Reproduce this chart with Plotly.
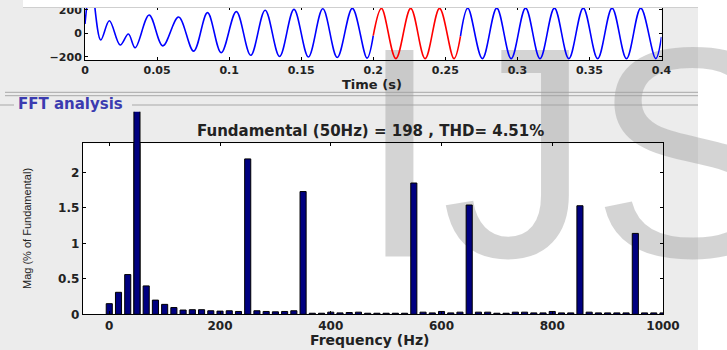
import plotly.graph_objects as go

W, H = 727, 350

# ---------------- data ----------------
# Time-domain signal (extrema), seconds / value
wave_t = [0.000, 0.0042, 0.0109, 0.0169, 0.0244, 0.0301, 0.0348, 0.0445, 0.0540, 0.0649,
          0.0754, 0.0850, 0.0945, 0.1050, 0.1150, 0.1250, 0.1350, 0.1450, 0.1550, 0.1650,
          0.1750, 0.1855, 0.1957, 0.2000, 0.2057, 0.2157, 0.2260, 0.2360, 0.2460, 0.2560,
          0.2605, 0.2656, 0.2757, 0.2857, 0.2957, 0.3057, 0.3157, 0.3257, 0.3357, 0.3457,
          0.3557, 0.3657, 0.3757, 0.3856, 0.3960, 0.4000]
wave_v = [80, 420, -57, 108, -100, -6, -123, 157, -107, 140,
          -152, 177, -166, 186, -188, 198, -198, 205, -202, 210,
          -206, 214, -212, -20, 214, -216, 214, -216, 214, -216,
          -25, 216, -216, 216, -216, 216, -216, 216, -216, 216,
          -216, 216, -216, 216, -216, -30]
fft_window = (0.2, 0.2605)   # highlighted 3-cycle window (s)

time_ticks = [0, 0.05, 0.1, 0.15, 0.2, 0.25, 0.3, 0.35, 0.4]
time_ticktext = ["0", "0.05", "0.1", "0.15", "0.2", "0.25", "0.3", "0.35", "0.4"]
wave_yticks = [-200, 0, 200]

# FFT spectrum (Hz / % of fundamental)
fft_freq = [0, 16.67, 33.33, 50, 66.67, 83.33, 100, 116.67, 133.33, 150,
            166.67, 183.33, 200, 216.67, 233.33, 250, 266.67, 283.33, 300, 316.67,
            333.33, 350, 366.67, 383.33, 400, 416.67, 433.33, 450, 466.67, 483.33,
            500, 516.67, 533.33, 550, 566.67, 583.33, 600, 616.67, 633.33, 650,
            666.67, 683.33, 700, 716.67, 733.33, 750, 766.67, 783.33, 800, 816.67,
            833.33, 850, 866.67, 883.33, 900, 916.67, 933.33, 950, 966.67, 983.33,
            1000]
fft_mag = [0.15, 0.31, 0.56, 100, 0.40, 0.20, 0.14, 0.095, 0.06, 0.065,
           0.065, 0.05, 0.045, 0.05, 0.04, 2.19, 0.05, 0.04, 0.035, 0.04,
           0.05, 1.73, 0.015, 0.015, 0.03, 0.02, 0.025, 0.03, 0.015, 0.015,
           0.015, 0.015, 0.015, 1.85, 0.03, 0.02, 0.04, 0.02, 0.03, 1.54,
           0.03, 0.03, 0.015, 0.015, 0.03, 0.03, 0.02, 0.02, 0.04, 0.02,
           0.02, 1.53, 0.03, 0.02, 0.02, 0.02, 0.02, 1.14, 0.02, 0.02,
           0.02]
fundamental_hz = 50
freq_ticks = [0, 200, 400, 600, 800, 1000]
mag_ticks = [0, 0.5, 1, 1.5, 2]
mag_ticktext = ["0", "0.5", "1", "1.5", "2"]

title_text = "Fundamental (50Hz) = 198 , THD= 4.51%"

# ---------------- helpers ----------------
def px(x):
    return x / W

def py(y):
    return 1 - y / H

TICKFONT_TOP = dict(family="DejaVu Sans", size=11, color="#222222", weight="bold")
TICKFONT = dict(family="DejaVu Sans", size=12, color="#222222", weight="bold")
BG = "#ececec"

fig = go.Figure()

# waveform: blue outside the window, red inside
w0, w1 = fft_window
seg_before = [(t, v) for t, v in zip(wave_t, wave_v) if t <= w0]
seg_win = [(t, v) for t, v in zip(wave_t, wave_v) if w0 <= t <= w1]
seg_after = [(t, v) for t, v in zip(wave_t, wave_v) if t >= w1]
for seg, col in [(seg_before, "#0000ff"), (seg_after, "#0000ff"), (seg_win, "#ff0000")]:
    fig.add_trace(go.Scatter(
        x=[p[0] for p in seg], y=[p[1] for p in seg], mode="lines",
        line=dict(color=col, width=1.6, shape="spline", smoothing=1.0),
        xaxis="x", yaxis="y", showlegend=False, hoverinfo="skip"))

# FFT bars (clipped in the framed axes)
bar_style = dict(color="#000080", line=dict(color="#000000", width=1))
fig.add_trace(go.Bar(x=fft_freq, y=fft_mag, width=11, marker=bar_style,
                     xaxis="x3", yaxis="y3", showlegend=False, hoverinfo="skip"))
# fundamental bar again in a taller invisible axis, so it pokes above the frame
fund = [(f, m) for f, m in zip(fft_freq, fft_mag) if f == fundamental_hz]
fig.add_trace(go.Bar(x=[p[0] for p in fund], y=[p[1] for p in fund], width=11,
                     marker=bar_style, xaxis="x4", yaxis="y4",
                     showlegend=False, hoverinfo="skip"))

# geometry (pixels)
top_l, top_r, top_t, top_b = 85, 661.5, 6.7, 60
fft_l, fft_r, fft_t, fft_b = 82.7, 663, 143.3, 314.3
fund_top = 111.7
fft_ymax = 2.41
fft_ymax_tall = fft_ymax * (fft_b - fund_top) / (fft_b - fft_t)
fft_xrange = [-48, 1000]

axis_common = dict(showgrid=False, zeroline=False, showline=True, linecolor="#000000",
                   linewidth=1, ticks="inside", ticklen=3, tickcolor="#000000",
                   mirror="ticks", automargin=False)

fig.update_layout(
    width=W, height=H, margin=dict(l=0, r=0, t=0, b=0, pad=0),
    paper_bgcolor="#ffffff", plot_bgcolor="rgba(0,0,0,0)",
    bargap=0,
    xaxis=dict(domain=[px(top_l), px(top_r)], range=[0, 0.4], anchor="y",
               tickvals=time_ticks, ticktext=time_ticktext,
               tickfont=TICKFONT_TOP, **axis_common),
    yaxis=dict(domain=[py(top_b), py(top_t)], range=[-228, 228], anchor="x",
               tickvals=wave_yticks, tickfont=TICKFONT_TOP, **axis_common),
    xaxis3=dict(domain=[px(fft_l), px(fft_r)], range=fft_xrange, anchor="y3",
                tickvals=freq_ticks, tickfont=TICKFONT, **axis_common),
    yaxis3=dict(domain=[py(fft_b), py(fft_t)], range=[0, fft_ymax], anchor="x3",
                tickvals=mag_ticks, ticktext=mag_ticktext, tickfont=TICKFONT,
                **axis_common),
    xaxis4=dict(domain=[px(fft_l), px(fft_r)], range=fft_xrange, anchor="y4",
                visible=False, matches="x3", automargin=False),
    yaxis4=dict(domain=[py(fft_b), py(fund_top)], range=[0, fft_ymax_tall],
                anchor="x4", visible=False, automargin=False),
)

shapes = []
def rect(x0, y0, x1, y1, fill, layer="below"):
    shapes.append(dict(type="rect", xref="paper", yref="paper",
                       x0=px(x0), x1=px(x1), y0=py(y1), y1=py(y0),
                       fillcolor=fill, line=dict(width=0), layer=layer))

def hline(y, x0, x1, color, layer="below"):
    shapes.append(dict(type="line", xref="paper", yref="paper",
                       x0=px(x0), x1=px(x1), y0=py(y), y1=py(y),
                       line=dict(color=color, width=1), layer=layer))

rect(0, 0, 698, 350, BG)
rect(top_l, top_t, top_r, top_b, "#ffffff")
rect(fft_l, fft_t, fft_r, fft_b, "#ffffff")
hline(92.3, 5, 698, "#a8a8a8")
hline(95.7, 5, 698, "#a8a8a8")
hline(105, 0, 14, "#a8a8a8")
hline(105, 132, 698, "#a8a8a8")
# watermark
shapes.append(dict(type="rect", xref="paper", yref="paper",
                   x0=px(358), x1=px(791), y0=py(232), y1=py(17),
                   line=dict(width=0), fillcolor="rgba(0,0,0,0)", layer="below",
                   label=dict(text="IJS", textposition="middle center",
                              font=dict(family="Liberation Sans, Arial", size=300,
                                        color="rgba(160,160,160,0.45)"))))
# white strip over the top edge
rect(23, 0, 698, 7, "#ffffff", layer="above")
hline(7.5, 23, 698, "#cfcfcf", layer="above")
fig.update_layout(shapes=shapes)

ann = []
def text(x, y, s, font, xanchor="center", angle=0):
    ann.append(dict(x=px(x), y=py(y), xref="paper", yref="paper", text=s,
                    showarrow=False, xanchor=xanchor, yanchor="middle",
                    textangle=angle, font=font))

BOLD = dict(family="DejaVu Sans", color="#222222", weight="bold")
text(370.5, 131.5, title_text, dict(BOLD, size=15))
text(372, 84, "Time (s)", dict(BOLD, size=13))
text(369, 340, "Frequency (Hz)", dict(BOLD, size=14))
text(27, 229, "Mag (% of Fundamental)",
     dict(family="Liberation Sans, Arial", size=11, color="#222222"), angle=-90)
text(16, 104, "FFT analysis", dict(family="DejaVu Sans", size=15, color="#3b3bb0",
                                    weight="bold"), xanchor="left")
fig.update_layout(annotations=ann)

fig.write_html(
    "out.html",
    config={"displayModeBar": False, "staticPlot": True},
    post_script="document.body.style.margin='0';"
                "document.documentElement.style.overflow='hidden';",
)
